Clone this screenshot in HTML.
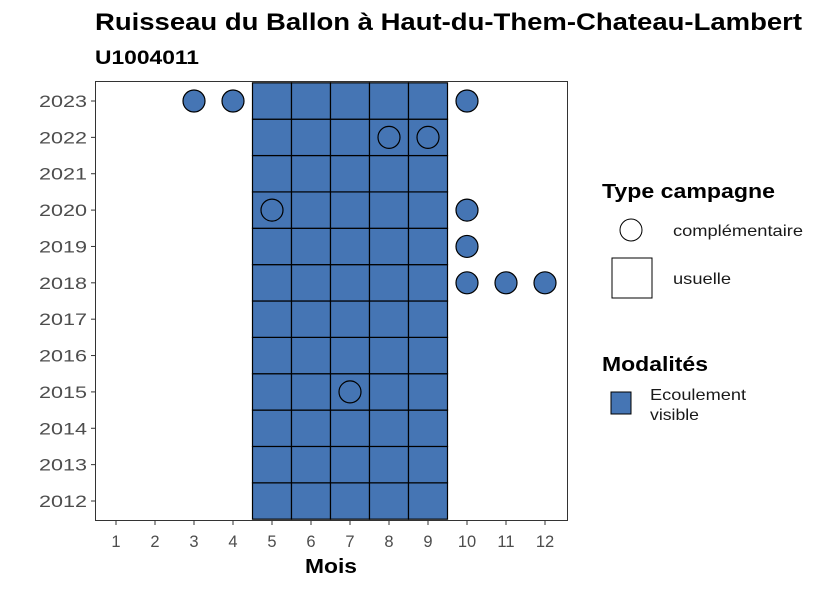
<!DOCTYPE html>
<html><head><meta charset="utf-8"><style>
body{margin:0;background:#fff;font-family:"Liberation Sans",sans-serif}
svg text{font-family:"Liberation Sans",sans-serif}
</style></head><body>
<svg id="c" width="826" height="590">
<text x="95" y="30" font-size="24" font-weight="bold" fill="#000" textLength="707" lengthAdjust="spacingAndGlyphs">Ruisseau du Ballon à Haut-du-Them-Chateau-Lambert</text>
<text x="95" y="64" font-size="19" font-weight="bold" fill="#000" textLength="104" lengthAdjust="spacingAndGlyphs">U1004011</text>
<g id="tiles"></g><g id="pts"></g>
<rect x="95.5" y="81.5" width="472" height="439" fill="none" stroke="#333" stroke-width="1"/>
<g id="axes"></g>
<text x="305" y="573" font-size="20" font-weight="bold" textLength="52" lengthAdjust="spacingAndGlyphs">Mois</text>
<text x="602" y="198" font-size="20" font-weight="bold" textLength="173" lengthAdjust="spacingAndGlyphs">Type campagne</text>
<circle cx="631" cy="230" r="11" fill="#fff" stroke="#000"/>
<text x="673" y="236" font-size="16" fill="#1a1a1a" textLength="130" lengthAdjust="spacingAndGlyphs">complémentaire</text>
<rect x="612" y="258" width="40" height="40" fill="#fff" stroke="#000"/>
<text x="673" y="284" font-size="16" fill="#1a1a1a" textLength="58" lengthAdjust="spacingAndGlyphs">usuelle</text>
<text x="602" y="371" font-size="20" font-weight="bold" textLength="106" lengthAdjust="spacingAndGlyphs">Modalités</text>
<rect x="611" y="392" width="20" height="22" fill="#4575B4" stroke="#000"/>
<text x="650" y="400" font-size="16" fill="#1a1a1a" textLength="96" lengthAdjust="spacingAndGlyphs">Ecoulement</text>
<text x="650" y="420" font-size="16" fill="#1a1a1a" textLength="49" lengthAdjust="spacingAndGlyphs">visible</text>
</svg>
<script>
const months=[1,2,3,4,5,6,7,8,9,10,11,12];
const years=[2012,2013,2014,2015,2016,2017,2018,2019,2020,2021,2022,2023];
const tileMonths=[5,6,7,8,9];
const tileYears=[2012,2013,2014,2015,2016,2017,2018,2019,2020,2021,2022,2023];
const ptMonths=[3,4,10,8,9,5,10,10,10,11,12,7];
const ptYears=[2023,2023,2023,2022,2022,2020,2020,2019,2018,2018,2018,2015];
const NS="http://www.w3.org/2000/svg";
const x=m=>116+(m-1)*39, y=yr=>501-(yr-2012)*(400/11);
const bw=39, bh=400/11;
function mk(t,a,p){const e=document.createElementNS(NS,t);for(const k in a)e.setAttribute(k,a[k]);p.appendChild(e);return e;}
const T=document.getElementById('tiles'),P=document.getElementById('pts'),A=document.getElementById('axes');
tileYears.forEach(yr=>tileMonths.forEach(m=>{
 const r=mk('rect',{x:x(m)-bw/2,y:y(yr)-bh/2,width:bw,height:bh,fill:'#4575B4',stroke:'#000','stroke-width':1.2},T);
 
 
}));
ptMonths.forEach((m,i)=>{
 const c=mk('circle',{cx:x(m),cy:y(ptYears[i]),r:11,fill:'#4575B4',stroke:'#000','stroke-width':1.2},P);
 
 
});
months.forEach(m=>{
 mk('line',{x1:x(m),x2:x(m),y1:521,y2:525,stroke:'#333'},A);
 const t=mk('text',{x:x(m),y:547,'font-size':16.5,'text-anchor':'middle',fill:'#4d4d4d'},A);t.textContent=m;
 
 
});
years.forEach(yr=>{
 mk('line',{x1:91,x2:95,y1:y(yr),y2:y(yr),stroke:'#333'},A);
 const t=mk('text',{x:39,y:y(yr)+6,'font-size':16.5,fill:'#4d4d4d',textLength:48,lengthAdjust:'spacingAndGlyphs'},A);t.textContent=yr;
 
 
});
</script>
</body></html>
